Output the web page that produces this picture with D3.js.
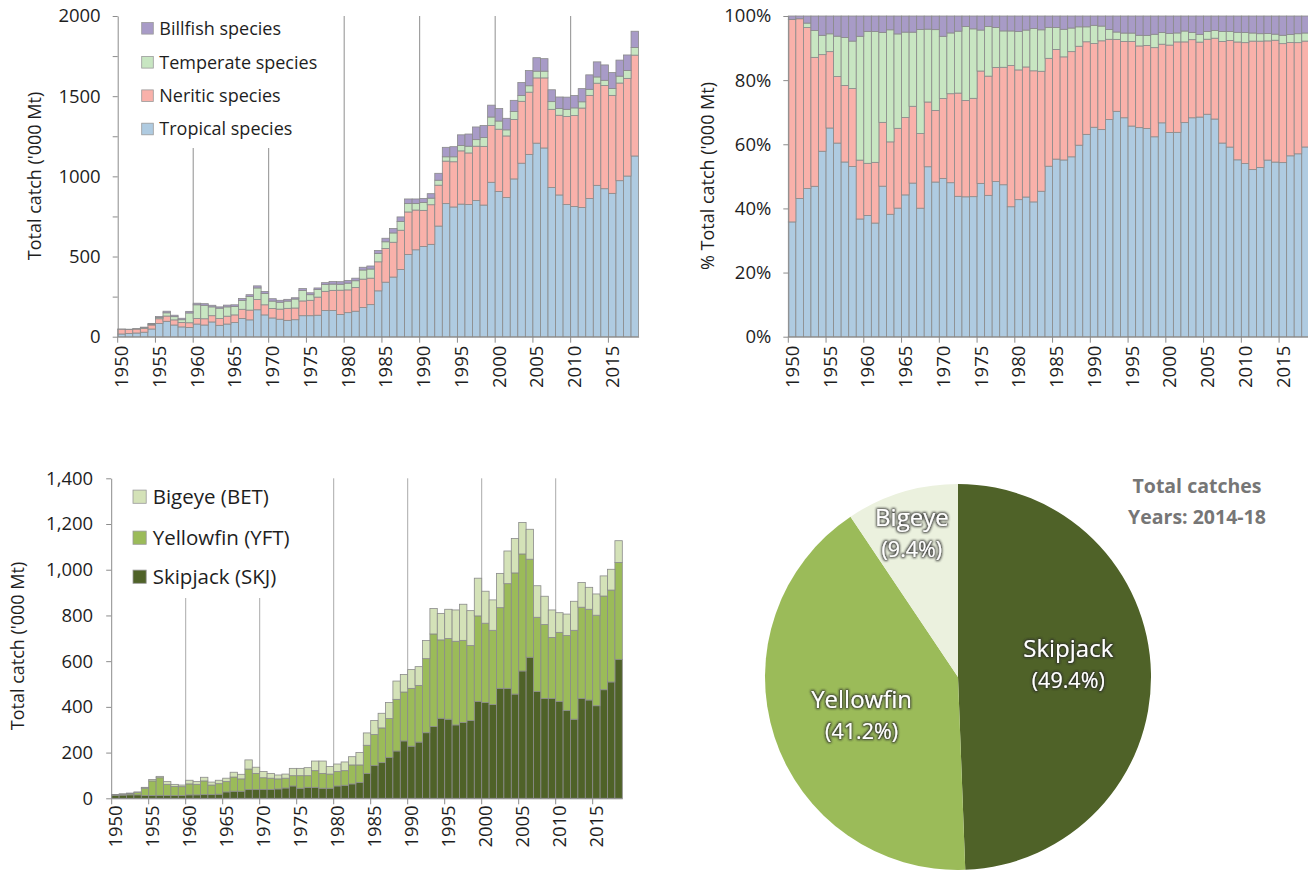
<!DOCTYPE html>
<html><head><meta charset="utf-8">
<script src="https://cdn.jsdelivr.net/npm/d3@7"></script>
<style>
body{margin:0;background:#fff;}
svg{display:block;font-family:'Open Sans',sans-serif;}
</style></head><body>
<svg id="c" width="1308" height="870"></svg>
<script>
// ---------------- DATA ----------------
const years = [1950,1951,1952,1953,1954,1955,1956,1957,1958,1959,1960,1961,1962,1963,1964,1965,1966,1967,1968,1969,
  1970,1971,1972,1973,1974,1975,1976,1977,1978,1979,1980,1981,1982,1983,1984,1985,1986,1987,1988,1989,
  1990,1991,1992,1993,1994,1995,1996,1997,1998,1999,2000,2001,2002,2003,2004,2005,2006,2007,2008,2009,
  2010,2011,2012,2013,2014,2015,2016,2017,2018];

// Catches by species group ('000 t)
const tropical = [17,20,23,28,48,82,96,73,61,58,79,73,92,71,79,88,114,105,168,136,
  117,109,102,106,131,131,134,163,163,139,150,159,182,200,286,340,372,419,513,542,
  563,576,690,830,809,827,824,849,821,963,906,868,984,1082,1137,1207,1177,930,884,824,
  812,806,862,944,923,894,973,1002,1127];
const neritic = [30,26,25,24,25,30,33,32,28,29,34,39,39,42,49,48,57,61,64,63,
  59,63,75,73,92,96,113,120,126,151,142,148,177,165,181,210,217,245,265,248,
  225,247,255,265,282,332,322,339,366,354,388,384,371,386,388,407,437,488,497,549,
  567,620,643,637,644,611,609,609,629];
const temperate = [0,0,0.7,5,5,7,20,20,17,61,86,84,55,65,58,53,55,85,72,71,
  46,43,45,56,65,35,47,42,39,37,42,42,57,57,52,42,58,55,52,40,
  49,41,31,27,31,33,42,41,55,53,51,38,50,36,40,42,42,48,42,45,
  48,39,38,39,32,43,43,49,48];
const billfish = [0.5,0.4,1.1,2.7,5,7,10,9,9,10,10,10,10,8,11,10,12,11,13,12,
  15,12,11,8,12,12,10,12,16,16,17,16,17,19,19,22,28,28,29,29,
  25,28,43,59,63,67,76,79,75,74,78,72,69,81,95,84,78,74,72,76,
  77,82,90,94,96,99,100,97,101];

// Tropical tuna catches ('000 t)
const skipjack = [12,14,15,15,12,12,13,12,12,12,15,15,16,16,18,28,31,31,38,38,
  39,39,41,45,54,44,48,48,44,44,54,57,63,69,109,143,156,179,207,251,
  228,246,287,314,350,346,321,332,340,424,419,410,481,481,456,557,617,467,437,437,
  424,384,346,437,430,405,475,509,608];
const yellowfin = [3,3,5,10,32,64,77,49,40,39,48,46,60,42,46,45,62,54,90,71,
  51,49,44,43,45,55,51,73,65,62,63,64,83,77,123,136,152,170,226,214,
  253,248,324,405,343,353,366,359,328,374,347,325,353,458,530,512,429,325,323,267,
  302,328,389,399,397,396,410,402,424];
const bigeye = [2,3,3,3,4,6,6,12,9,7,16,12,16,13,15,15,21,20,40,27,
  27,21,17,18,32,32,35,42,54,33,33,38,36,54,54,61,64,70,80,77,
  82,82,79,111,116,128,137,158,153,165,140,133,150,143,151,138,131,138,124,120,
  86,94,127,108,96,93,88,91,95];

const groupNames = ["Tropical species","Neritic species","Temperate species","Billfish species"];
const tunaNames = ["Skipjack (SKJ)","Yellowfin (YFT)","Bigeye (BET)"];
const pieNames = ["Skipjack","Yellowfin","Bigeye"];
const pieShares = [49.4,41.2,9.4];
const pieTitle = ["Total catches","Years: 2014-18"];

const xTickYears = [1950,1955,1960,1965,1970,1975,1980,1985,1990,1995,2000,2005,2010,2015];
const gridYears = [1960,1970,1980,1990,2000,2010];
const topTicks = [0,250,500,750,1000,1250,1500,1750,2000];
const topLabels = [0,500,1000,1500,2000];
const pctTicks = [0,0.2,0.4,0.6,0.8,1];
const botTicks = [0,200,400,600,800,1000,1200,1400];

// ---------------- STYLE ----------------
const groupColors = ["#AFCBE1","#F9B1AA","#C8E6C2","#A89BC7"];
const tunaColors = ["#4F6228","#9BBB59","#D4E2B8"];
const pieColors = ["#4F6228","#9BBB59","#EBF1DE"];
const AX = "#8c8c8c", TXT = "#1e1e1e";

const svg = d3.select("#c");
const defs = svg.append("defs");
const f = defs.append("filter").attr("id","glow").attr("x","-20%").attr("y","-40%").attr("width","140%").attr("height","180%");
f.append("feMorphology").attr("in","SourceAlpha").attr("operator","dilate").attr("radius",0.8).attr("result","d");
f.append("feGaussianBlur").attr("in","d").attr("stdDeviation",1.1).attr("result","b");
f.append("feFlood").attr("flood-color","#2a2a2a").attr("flood-opacity",0.85).attr("result","c");
f.append("feComposite").attr("in","c").attr("in2","b").attr("operator","in").attr("result","s");
const fm = f.append("feMerge");
fm.append("feMergeNode").attr("in","s");
fm.append("feMergeNode").attr("in","SourceGraphic");

const keys4 = ["tropical","neritic","temperate","billfish"];
const rows4 = years.map((y,i)=>({year:y,tropical:tropical[i],neritic:neritic[i],temperate:temperate[i],billfish:billfish[i]}));
const keys3 = ["skj","yft","bet"];
const rows3 = years.map((y,i)=>({year:y,skj:skipjack[i],yft:yellowfin[i],bet:bigeye[i]}));

function drawStack(g, series, x, y, colors){
  g.selectAll("g.s").data(series).join("g").attr("class","s").attr("fill",(d,i)=>colors[i])
    .selectAll("rect").data(d=>d).join("rect")
    .attr("x",d=>x(d.data.year)).attr("width",x.bandwidth())
    .attr("y",d=>y(d[1])).attr("height",d=>Math.max(0,y(d[0])-y(d[1])))
    .attr("stroke","#8a8a8a").attr("stroke-width",0.8);
}
function xAxis(g, x, yPos, off, fs){
  const a = g.append("g").attr("transform",`translate(0,${yPos})`)
    .call(d3.axisBottom(x).tickValues(xTickYears).tickSize(6).tickSizeOuter(0));
  a.select(".domain").attr("stroke",AX);
  a.selectAll(".tick line").attr("x1",-x.bandwidth()/2).attr("x2",-x.bandwidth()/2).attr("stroke",AX);
  a.selectAll(".tick text").attr("transform","rotate(-90)").attr("text-anchor","end")
    .attr("x",-off).attr("y",0).attr("dy","0.36em").attr("fill",TXT)
    .style("font-size",fs+"px").style("font-family","'Open Sans',sans-serif");
}
function yAxis(g, y, xPos, ticks, fmt, pad, fs){
  const a = g.append("g").attr("transform",`translate(${xPos},0)`)
    .call(d3.axisLeft(y).tickValues(ticks).tickFormat(fmt).tickSize(5).tickPadding(pad).tickSizeOuter(0));
  a.select(".domain").attr("stroke",AX);
  a.selectAll(".tick line").attr("stroke",AX);
  a.selectAll(".tick text").attr("fill",TXT).style("font-size",fs+"px").style("font-family","'Open Sans',sans-serif");
}
function yTitle(g, text, x, y, fs){
  g.append("text").attr("transform",`translate(${x},${y}) rotate(-90)`).attr("text-anchor","middle")
    .attr("dy","0.35em").attr("fill",TXT).style("font-size",fs+"px").text(text);
}

// ---------------- TOP LEFT ----------------
{
  const g = svg.append("g");
  const x = d3.scaleBand().domain(years).range([117.7,638.6]).padding(0);
  const y = d3.scaleLinear().domain([0,2000]).range([336.7,16]);
  gridYears.forEach(yr=>{
    g.append("line").attr("x1",x(yr)).attr("x2",x(yr))
      .attr("y1", yr<1975 ? 148 : y(2000)).attr("y2",y(0)).attr("stroke","#8f8f8f").attr("stroke-width",1);
  });
  drawStack(g, d3.stack().keys(keys4)(rows4), x, y, groupColors);
  yAxis(g, y, 117.7, topTicks, d=>topLabels.includes(d)?d:"", 12, 18.5);
  xAxis(g, x, 336.7, 9, 18.5);
  yTitle(g, "Total catch ('000 Mt)", 35, 176, 18);
  const leg = g.append("g");
  const legY = [129,95.7,62.3,28.3];
  groupNames.forEach((n,i)=>{
    leg.append("rect").attr("x",141.7).attr("y",legY[i]-5.8).attr("width",11.6).attr("height",11.6)
      .attr("fill",groupColors[i]).attr("stroke","#9a9a9a").attr("stroke-width",0.8);
    leg.append("text").attr("x",159.3).attr("y",legY[i]).attr("dy","0.35em").attr("fill",TXT)
      .style("font-size","18px").text(n);
  });
}

// ---------------- TOP RIGHT ----------------
{
  const g = svg.append("g");
  const x = d3.scaleBand().domain(years).range([788.3,1309.3]).padding(0);
  const y = d3.scaleLinear().domain([0,1]).range([336.7,16]);
  drawStack(g, d3.stack().keys(keys4).offset(d3.stackOffsetExpand)(rows4), x, y, groupColors);
  yAxis(g, y, 788.3, pctTicks, d3.format(".0%"), 12, 18.5);
  xAxis(g, x, 336.7, 9, 18.5);
  yTitle(g, "% Total catch ('000 Mt)", 708, 176, 18);
}

// ---------------- BOTTOM LEFT ----------------
{
  const g = svg.append("g");
  const x = d3.scaleBand().domain(years).range([111.7,622.3]).padding(0);
  const y = d3.scaleLinear().domain([0,1400]).range([798.3,478.3]);
  gridYears.forEach(yr=>{
    g.append("line").attr("x1",x(yr)).attr("x2",x(yr))
      .attr("y1", yr<1975 ? 598 : y(1400)).attr("y2",y(0)).attr("stroke","#ababab").attr("stroke-width",1);
  });
  drawStack(g, d3.stack().keys(keys3)(rows3), x, y, tunaColors);
  yAxis(g, y, 111.2, botTicks, d3.format(","), 13, 18.5);
  xAxis(g, x, 798.3, 7, 18.5);
  yTitle(g, "Total catch ('000 Mt)", 18, 646, 18);
  const legY = [576.7,537.7,496.7];
  tunaNames.forEach((n,i)=>{
    g.append("rect").attr("x",133).attr("y",legY[i]-6.6).attr("width",13.2).attr("height",13.2)
      .attr("fill",tunaColors[i]).attr("stroke","#9a9a9a").attr("stroke-width",0.8);
    g.append("text").attr("x",152.7).attr("y",legY[i]).attr("dy","0.35em").attr("fill",TXT)
      .style("font-size","20.5px").text(n);
  });
}

// ---------------- PIE ----------------
{
  const cx = 958, cy = 677, r = 193;
  const g = svg.append("g").attr("transform",`translate(${cx},${cy})`);
  const arcs = d3.pie().sort(null).value(d=>d)(pieShares);
  const arc = d3.arc().innerRadius(0).outerRadius(r);
  g.selectAll("path").data(arcs).join("path").attr("d",arc).attr("fill",(d,i)=>pieColors[i]);
  const labelPolar = [[83.5,111],[248,104],[342.2,151]];
  arcs.forEach((a,i)=>{
    const [px,py] = d3.pointRadial(labelPolar[i][0]*Math.PI/180, labelPolar[i][1]);
    g.append("text").attr("x",px).attr("y",py-16).attr("dy","0.35em").attr("text-anchor","middle")
      .attr("fill","#fff").attr("filter","url(#glow)").style("font-size","24px").text(pieNames[i]);
    g.append("text").attr("x",px).attr("y",py+16).attr("dy","0.35em").attr("text-anchor","middle")
      .attr("fill","#fff").attr("filter","url(#glow)").style("font-size","21.5px").text(`(${pieShares[i]}%)`);
  });
  pieTitle.forEach((t,i)=>{
    svg.append("text").attr("x",1197).attr("y",486+i*31).attr("dy","0.35em").attr("text-anchor","middle")
      .attr("fill","#767676").style("font-size","19.5px").style("font-weight","bold").text(t);
  });
}
</script>
</body></html>
